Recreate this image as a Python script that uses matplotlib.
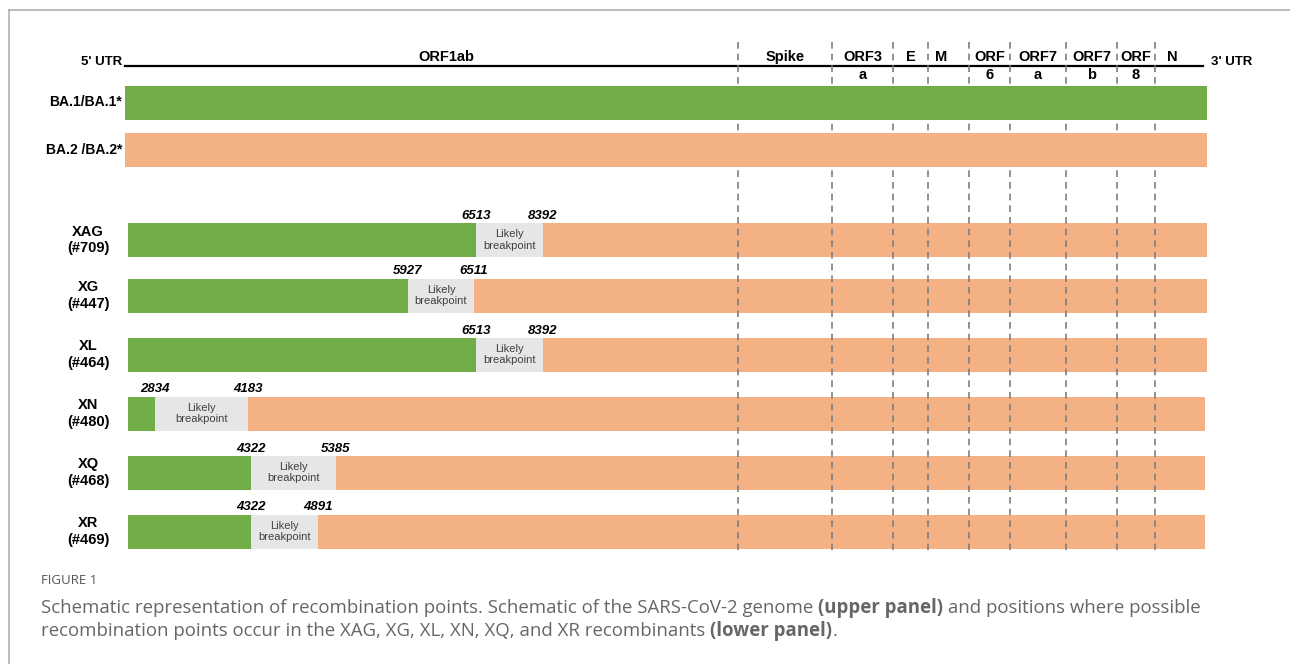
import matplotlib
matplotlib.use("Agg")
import matplotlib.pyplot as plt

plt.rcParams["font.family"] = ["Liberation Sans", "DejaVu Sans"]

# esquema del genoma, unidades del dibujo (0 = extremo 5')
track_end = 1082
genes = ["ORF1ab", "Spike", "ORF3\na", "E", "M", "ORF\n6", "ORF7\na", "ORF7\nb", "ORF\n8", "N"]
gene_start = [29, 613, 707, 768, 803, 844, 885, 941, 992, 1030]
gene_end = [613, 707, 768, 803, 830, 885, 941, 992, 1030, 1064]
boundaries = [613, 707, 768, 803, 844, 885, 941, 992, 1030]

parents = ["BA.1/BA.1*", "BA.2 /BA.2*"]

# recombinantes
lineages = ["XAG\n(#709)", "XG\n(#447)", "XL\n(#464)", "XN\n(#480)", "XQ\n(#468)", "XR\n(#469)"]
bp_start = [6513, 5927, 6513, 2834, 4322, 4322]
bp_end = [8392, 6511, 8392, 4183, 5385, 4891]
seg_start = [3, 3, 3, 3, 3, 3]
seg_bp1 = [351, 283, 351, 30, 126, 126]
seg_bp2 = [418, 349, 418, 123, 211, 193]
seg_end = [1082, 1082, 1082, 1080, 1080, 1080]

verde = "#70AD47"
salmon = "#F4B183"
gris = "#E7E6E6"

fig = plt.figure(figsize=(12.9, 6.64), dpi=100)
ax = fig.add_axes([0, 0, 1, 1])
ax.set_xlim(-125, 1165)
ax.set_ylim(664, 0)
ax.axis("off")

# marco
ax.plot([-116, 1165], [10, 10], color="#b0b0b0", lw=1.2, clip_on=False)
ax.plot([-116, -116], [10, 664], color="#b0b0b0", lw=1.2, clip_on=False)

# linea del genoma
ax.plot([0, 1078], [66, 66], color="black", lw=1.6)
ax.text(-3, 62, "5' UTR", ha="right", va="center", fontsize=9.5, fontweight="bold")
ax.text(1086, 62, "3' UTR", ha="left", va="center", fontsize=9.5, fontweight="bold")
for g, s, e in zip(genes, gene_start, gene_end):
    lines = g.split("\n")
    ax.text((s + e) / 2, 57, lines[0], ha="center", va="center", fontsize=10.5, fontweight="bold")
    if len(lines) > 1:
        ax.text((s + e) / 2, 75, lines[1], ha="center", va="center", fontsize=10.5, fontweight="bold")

for b in boundaries:
    ax.plot([b, b], [42, 550], color="#7F7F7F", lw=1.2, ls=(0, (4, 3)), zorder=2)

# padres
parent_y = [102.5, 149.5]
for nombre, y, c in zip(parents, parent_y, [verde, salmon]):
    ax.barh(y, track_end, left=0, height=34, color=c, zorder=3)
    ax.text(-3, y, nombre, ha="right", va="center", fontsize=10, fontweight="bold")

# recombinantes
rec_y = [240, 295.5, 354.5, 413.5, 472.5, 531.5]
for i, y in enumerate(rec_y):
    ax.barh(y, seg_bp1[i] - seg_start[i], left=seg_start[i], height=34, color=verde, zorder=1)
    ax.barh(y, seg_bp2[i] - seg_bp1[i], left=seg_bp1[i], height=34, color=gris, zorder=1)
    ax.barh(y, seg_end[i] - seg_bp2[i], left=seg_bp2[i], height=34, color=salmon, zorder=1)
    ax.text(-37, y, lineages[i], ha="center", va="center", fontsize=10.5,
            fontweight="bold", linespacing=1.25)
    ax.text((seg_bp1[i] + seg_bp2[i]) / 2, y, "Likely\nbreakpoint", ha="center",
            va="center", fontsize=8, color="#404040", linespacing=1.2)
    ax.text(seg_bp1[i], y - 24, str(bp_start[i]), ha="center", va="center",
            fontsize=9.5, fontweight="bold", style="italic")
    ax.text(seg_bp2[i], y - 24, str(bp_end[i]), ha="center", va="center",
            fontsize=9.5, fontweight="bold", style="italic")

# pie de figura
cap_font = ["Open Sans", "DejaVu Sans"]
ax.text(-84, 581, "FIGURE 1", ha="left", va="center", fontsize=9.5, color="#555555",
        family=cap_font)

fig.canvas.draw()
renderer = fig.canvas.get_renderer()
inv = ax.transData.inverted()


def texto_mixto(x, y, partes):
    for txt, peso in partes:
        t = ax.text(x, y, txt, ha="left", va="center", fontsize=13.4, color="#666666",
                    family=cap_font, fontweight=peso)
        bb = t.get_window_extent(renderer=renderer)
        x = inv.transform((bb.x1, bb.y0))[0]


texto_mixto(-84, 608, [("Schematic representation of recombination points. Schematic of the SARS-CoV-2 genome ", "normal"),
                       ("(upper panel)", "bold"),
                       (" and positions where possible", "normal")])
texto_mixto(-84, 631, [("recombination points occur in the XAG, XG, XL, XN, XQ, and XR recombinants ", "normal"),
                       ("(lower panel)", "bold"),
                       (".", "normal")])

fig.savefig("out.png", dpi=100)
